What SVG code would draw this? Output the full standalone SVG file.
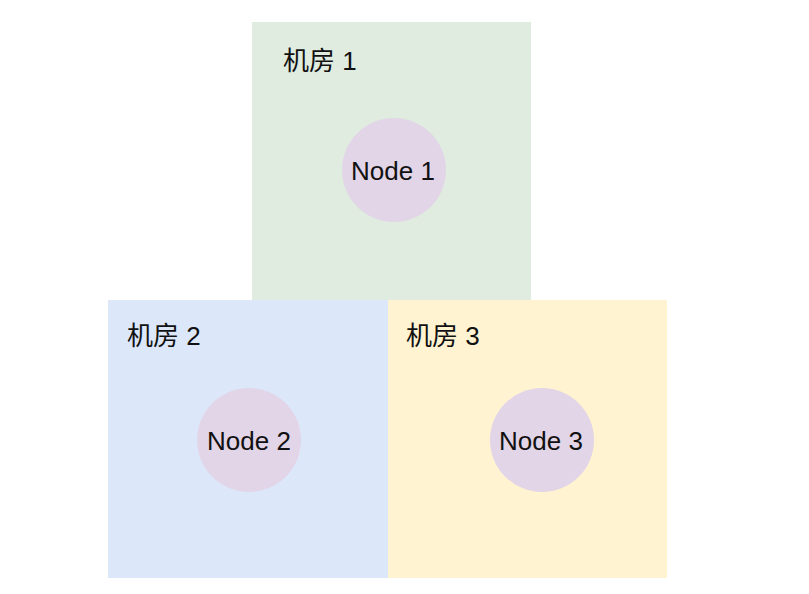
<svg xmlns="http://www.w3.org/2000/svg" width="809" height="594" viewBox="0 0 809 594">
<style>
text{font-family:"Liberation Sans","Noto Sans CJK SC",Arial,sans-serif;font-size:26px;fill:#111}
.node{fill:#e1d5e7}
.c{text-anchor:middle}
</style>
<rect width="809" height="594" fill="#fff"/>
<g id="room1"><rect x="252" y="22" width="279" height="278" fill="#e0ecdf"/><text x="283" y="70">机房 1</text></g>
<g id="room2"><rect x="108" y="300" width="280" height="278" fill="#dce8fa"/><text x="127" y="345">机房 2</text></g>
<g id="room3"><rect x="388" y="300" width="279" height="278" fill="#fff3d2"/><text x="406" y="345">机房 3</text></g>
<g id="node1"><circle class="node" cx="394" cy="170" r="52"/><text class="c" x="393" y="180">Node 1</text></g>
<g id="node2"><circle class="node" cx="249" cy="440" r="52"/><text class="c" x="249" y="450">Node 2</text></g>
<g id="node3"><circle class="node" cx="542" cy="440" r="52"/><text class="c" x="541" y="450">Node 3</text></g>
<g id="connectors"/>
</svg>
